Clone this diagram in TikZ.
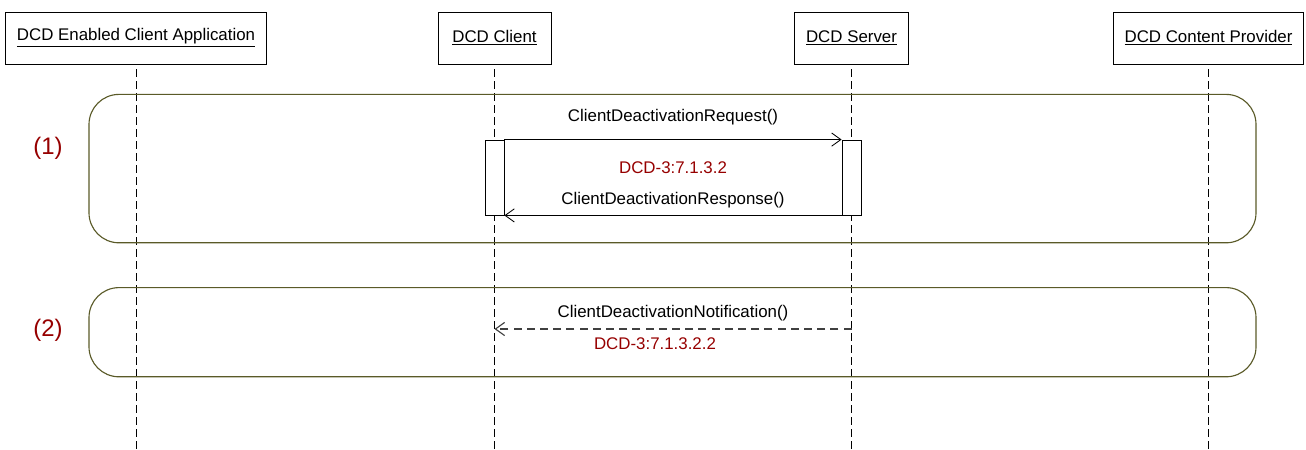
\documentclass[tikz,border=0pt]{standalone}
\usepackage{fontspec}
\setmainfont{Liberation Sans}
\usetikzlibrary{arrows.meta, calc}
\definecolor{refred}{RGB}{150,0,0}
\definecolor{grpolive}{RGB}{90,90,40}

\begin{document}
\begin{tikzpicture}[
		font=\fontsize{12}{14}\selectfont,
		actor/.style={draw, line width=0.6pt, minimum height=1.3cm, inner sep=2pt},
		lifeline/.style={line width=0.6pt, dash pattern=on 0.2cm off 0.1cm},
		group/.style={draw=grpolive, line width=0.8pt, rounded corners=0.75cm},
		act/.style={draw, line width=0.6pt, fill=white, minimum width=0.475cm, minimum height=1.875cm, inner sep=0pt},
		msg/.style={line width=0.6pt, -{Straight Barb[length=2.3mm,width=3.3mm]}},
		reply/.style={msg, line width=0.8pt, draw=black!75, dash pattern=on 0.2cm off 0.13cm},
		ref/.style={text=refred},
		num/.style={text=refred, font=\fontsize{17}{20}\selectfont}
	]
		\useasboundingbox (0,0) rectangle (32.65,-11.225);
		\coordinate (bottom) at (0,-11.225);
		\coordinate (row2) at (0,-8.225);

		\node[actor, minimum width=6.525cm] (app) at (3.4,-0.95) {\underline{DCD Enabled Client Application}};
		\node[actor, minimum width=2.825cm] (cli) at (12.3625,-0.95) {\underline{DCD Client}};
		\node[actor, minimum width=2.86cm] (srv) at (21.2875,-0.95) {\underline{DCD Server}};
		\node[actor, minimum width=4.75cm] (prov) at (30.2125,-0.95) {\underline{DCD Content Provider}};

		\foreach \n in {app,cli,srv,prov}
			\draw[lifeline] ([yshift=-0.12cm]\n.south) -- (\n |- bottom);

		\draw[group] (2.225,-2.36) rectangle (31.4,-6.07);
		\draw[group] (2.225,-7.19) rectangle (31.4,-9.42);

		\node[num] (g1) at (1.2,-3.71) {(1)};
		\node[num] (g2) at (1.2,-8.25) {(2)};

		\node[act] (cliAct) at (12.3625,-4.4375) {};
		\node[act] (srvAct) at (21.2875,-4.4375) {};

		\draw[msg] (cliAct.north east) -- node[yshift=0.55cm] (req) {ClientDeactivationRequest()} (srvAct.north west);
		\draw[msg] (srvAct.south west) -- node[yshift=0.375cm] (resp) {ClientDeactivationResponse()} (cliAct.south east);
		\node[ref] (ref1) at ($(req)!0.6!(resp)$) {DCD-3:7.1.3.2};

		\draw[reply] (srv |- row2) -- node[yshift=0.4cm] (notif) {ClientDeactivationNotification()} node[ref, xshift=-0.45cm, yshift=-0.375cm] (ref2) {DCD-3:7.1.3.2.2} (cli |- row2);
	\end{tikzpicture}
\end{document}
